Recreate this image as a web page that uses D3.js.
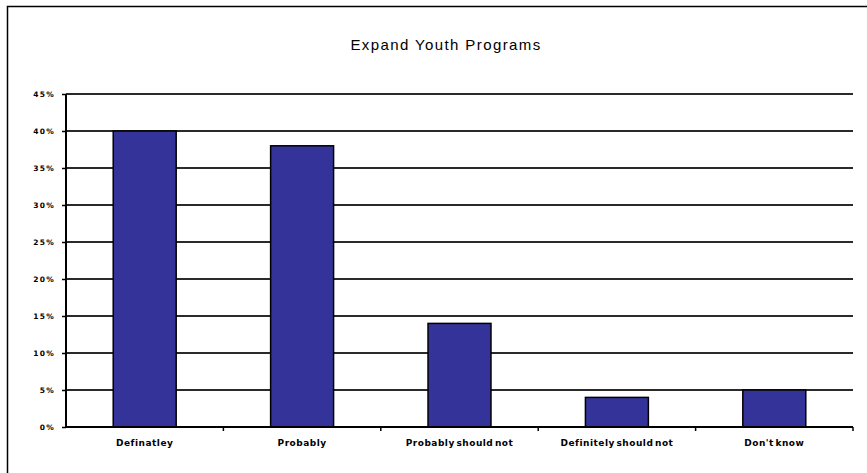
<!DOCTYPE html>
<meta charset="utf-8">
<style>
body { margin: 0; background: #fff; }
.x-label { font-family: "DejaVu Sans", sans-serif; font-weight: bold; font-size: 9px; fill: #000; letter-spacing: 0.5px; word-spacing: -2px; }
.y-label { font-family: "DejaVu Sans", sans-serif; font-weight: bold; font-size: 7.5px; fill: #000; letter-spacing: 1.3px; }
.title { font-family: "Liberation Sans", Arial, sans-serif; font-size: 15px; fill: #000; letter-spacing: 1.4px; }
</style>
<svg width="867" height="473"></svg>
<script src="https://d3js.org/d3.v7.min.js"></script>
<script>

var categories = ["Definatley", "Probably", "Probably should not", "Definitely should not", "Don't know"];
var values = [40, 38, 14, 4, 5];
var yTicks = [0, 5, 10, 15, 20, 25, 30, 35, 40, 45];
var chartTitle = "Expand Youth Programs";

var svg = d3.select("svg");

var margin = {left: 66, right: 14, top: 94, bottom: 46};
var width = 867, height = 473;

// outer chart frame (cropped on right and bottom)
svg.append("rect")
    .attr("x", 7.5).attr("y", 6.5)
    .attr("width", 900).attr("height", 500)
    .attr("fill", "none")
    .attr("stroke", "#000")
    .attr("stroke-width", 1.5);

svg.append("text")
    .attr("class", "title")
    .attr("x", 446).attr("y", 50)
    .attr("text-anchor", "middle")
    .text(chartTitle);

var x = d3.scaleBand()
    .domain(categories)
    .range([margin.left, width - margin.right])
    .paddingInner(0.6)
    .paddingOuter(0.3);

var y = d3.scaleLinear()
    .domain([0, 45])
    .range([height - margin.bottom, margin.top]);

// gridlines
svg.append("g")
  .selectAll("line")
  .data(yTicks.filter(function(d) { return d > 0; }))
  .enter().append("line")
    .attr("x1", margin.left).attr("x2", width - margin.right)
    .attr("y1", function(d) { return y(d); })
    .attr("y2", function(d) { return y(d); })
    .attr("stroke", "#2a2a2a")
    .attr("stroke-width", 2);

// bars
svg.append("g")
  .selectAll("rect")
  .data(values)
  .enter().append("rect")
    .attr("x", function(d, i) { return x(categories[i]); })
    .attr("y", function(d) { return y(d); })
    .attr("width", x.bandwidth())
    .attr("height", function(d) { return y(0) - y(d); })
    .attr("fill", "#333399")
    .attr("stroke", "#000")
    .attr("stroke-width", 1.5);

// y axis
var yAxis = svg.append("g")
    .attr("transform", "translate(" + margin.left + ",0)")
    .call(d3.axisLeft(y).tickValues(yTicks).tickSize(4).tickPadding(7)
      .tickFormat(function(d) { return d + "%"; }));
yAxis.select(".domain").attr("stroke", "#000").attr("stroke-width", 2).attr("d", "M0," + y(45) + "V" + y(0));
yAxis.selectAll(".tick line").attr("stroke", "#000").attr("stroke-width", 1.5);
yAxis.selectAll(".tick text").attr("class", "y-label").attr("dy", "0.3em");

// x axis
var step = x.step();
var xAxis = svg.append("g")
    .attr("transform", "translate(0," + y(0) + ")")
    .call(d3.axisBottom(x).tickSize(0).tickPadding(13));
xAxis.select(".domain").attr("stroke", "#000").attr("stroke-width", 2).attr("d", "M" + margin.left + ",0H" + (width - margin.right));
xAxis.selectAll(".tick text").attr("class", "x-label");
xAxis.append("g")
  .selectAll("line")
  .data(d3.range(1, categories.length + 1))
  .enter().append("line")
    .attr("x1", function(d) { return margin.left + d * step; })
    .attr("x2", function(d) { return margin.left + d * step; })
    .attr("y1", 0).attr("y2", 4)
    .attr("stroke", "#000")
    .attr("stroke-width", 1.5);

</script>
